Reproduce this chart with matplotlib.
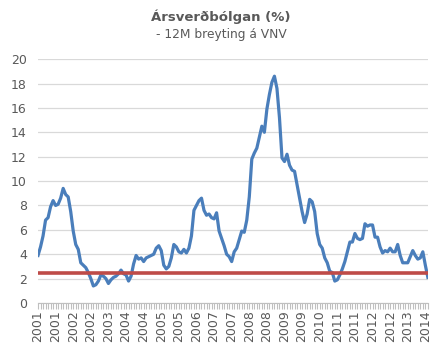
import numpy as np
import pandas as pd
import matplotlib
matplotlib.use("Agg")
import matplotlib.pyplot as plt
from matplotlib.transforms import blended_transform_factory

# 12 month change in CPI (VNV), monthly from March 2001
months = pd.date_range("2001-03-01", periods=156, freq="MS")
inflation = [
    3.9, 4.6, 5.5, 6.8, 7.0, 7.9, 8.4, 8.0, 8.1, 8.6,              # 2001
    9.4, 8.9, 8.7, 7.5, 5.9, 4.8, 4.4, 3.3, 3.1, 2.9, 2.5, 2.0,    # 2002
    1.4, 1.5, 1.8, 2.3, 2.2, 2.0, 1.6, 1.9, 2.1, 2.2, 2.4, 2.7,    # 2003
    2.4, 2.3, 1.8, 2.2, 3.2, 3.9, 3.6, 3.7, 3.4, 3.7, 3.8, 3.9,    # 2004
    4.0, 4.5, 4.7, 4.3, 3.1, 2.8, 3.0, 3.7, 4.8, 4.6, 4.2, 4.1,    # 2005
    4.4, 4.1, 4.5, 5.5, 7.6, 8.0, 8.4, 8.6, 7.6, 7.2, 7.3, 7.0,    # 2006
    6.9, 7.4, 5.9, 5.3, 4.7, 4.0, 3.8, 3.4, 4.2, 4.5, 5.2, 5.9,    # 2007
    5.8, 6.8, 8.7, 11.8, 12.3, 12.7, 13.6, 14.5, 14.0, 15.9, 17.1, 18.1,  # 2008
    18.6, 17.6, 15.2, 11.9, 11.6, 12.2, 11.3, 10.9, 10.8, 9.7, 8.6, 7.5,  # 2009
    6.6, 7.3, 8.5, 8.3, 7.5, 5.7, 4.8, 4.5, 3.7, 3.3, 2.6, 2.5,    # 2010
    1.8, 1.9, 2.3, 2.8, 3.4, 4.2, 5.0, 5.0, 5.7, 5.3, 5.2, 5.3,    # 2011
    6.5, 6.3, 6.4, 6.4, 5.4, 5.4, 4.6, 4.1, 4.3, 4.2, 4.5, 4.2,    # 2012
    4.2, 4.8, 3.9, 3.3, 3.3, 3.3, 3.8, 4.3, 3.9, 3.6, 3.7, 4.2,    # 2013
    3.1, 2.1,                                                      # 2014
]
target = 2.5
label_step = 7

txt = "#595959"

fig = plt.figure(figsize=(4.42, 3.54), dpi=100)
ax = fig.add_axes([0.086, 0.144, 0.882, 0.689])

x = np.arange(len(months))
ax.plot(x, inflation, color="#4A7EBB", lw=2.3, solid_joinstyle="round", zorder=3)
ax.axhline(target, color="#BE4B48", lw=2.6, zorder=4)

ax.set_xlim(0, len(months) - 1)
ax.set_ylim(0, 20)
ax.set_yticks(range(0, 21, 2))
ax.grid(axis="y", color="#D9D9D9", lw=0.9)
ax.set_axisbelow(True)

for s in ["top", "right", "left"]:
    ax.spines[s].set_visible(False)
ax.spines["bottom"].set_color("#BFBFBF")
ax.tick_params(axis="x", which="both", length=4, color="#BFBFBF", width=0.8,
               labelbottom=False)
ax.tick_params(axis="y", length=0, labelsize=9, labelcolor=txt, pad=8)

ax.set_xticks(x, minor=True)
ax.set_xticks(x[::label_step])

# year labels drawn vertically under each labelled month
trans = blended_transform_factory(ax.transData, ax.transAxes)
for xi, d in zip(x[::label_step], months[::label_step]):
    ax.text(xi, -0.03, str(d.year), transform=trans, rotation=90,
            rotation_mode="default", ha="center", va="top",
            fontsize=9, color=txt, clip_on=False)

fig.text(0.5, 0.952, "Ársverðbólgan (%)", ha="center", va="center",
         fontsize=9.5, fontweight="bold", color=txt)
fig.text(0.5, 0.902, "- 12M breyting á VNV", ha="center", va="center",
         fontsize=8.8, color=txt)

fig.savefig("out.png", dpi=100)
